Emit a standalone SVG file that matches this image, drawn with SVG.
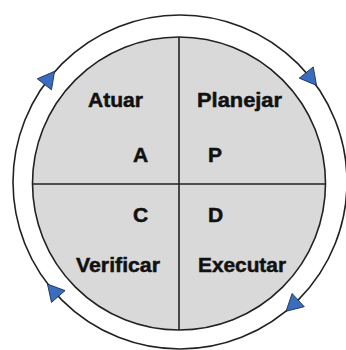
<svg xmlns="http://www.w3.org/2000/svg" width="346" height="350" viewBox="0 0 346 350">
<style>
.lbl{font-family:"Liberation Sans",Arial,sans-serif;font-weight:bold;font-size:21px;fill:#111;stroke:#111;stroke-width:0.5}
.ln{stroke:#222;stroke-width:1.6;fill:none}
.ah{fill:#3a6cc0;stroke:#1a2a4a;stroke-width:0.8}
</style>
<defs>
<polygon id="head" points="10,0 -6.5,-9 -6.5,9"/>
</defs>
<rect width="346" height="350" fill="#ffffff"/>
<g id="connectors">
<circle class="ln" cx="180" cy="182" r="167"/>
<use href="#head" class="ah" transform="translate(48.4,79.2) rotate(308)"/>
<use href="#head" class="ah" transform="translate(310.3,77.6) rotate(51.3)"/>
<use href="#head" class="ah" transform="translate(293.4,304.5) rotate(137.2)"/>
<use href="#head" class="ah" transform="translate(54,291.6) rotate(229)"/>
</g>
<g id="cycle">
<circle cx="179" cy="183.5" r="146.5" fill="#d9d9d9" stroke="#222" stroke-width="1.6"/>
<line class="ln" x1="179" y1="37" x2="179" y2="330"/>
<line class="ln" x1="32.5" y1="184" x2="325.5" y2="184"/>
</g>
<g id="atuar">
<text class="lbl" x="88" y="107" textLength="55" lengthAdjust="spacingAndGlyphs">Atuar</text>
<text class="lbl" x="133" y="162">A</text>
</g>
<g id="planejar">
<text class="lbl" x="197" y="107" textLength="85" lengthAdjust="spacingAndGlyphs">Planejar</text>
<text class="lbl" x="208" y="162">P</text>
</g>
<g id="verificar">
<text class="lbl" x="133" y="222">C</text>
<text class="lbl" x="76" y="272" textLength="84" lengthAdjust="spacingAndGlyphs">Verificar</text>
</g>
<g id="executar">
<text class="lbl" x="208" y="222">D</text>
<text class="lbl" x="198" y="272" textLength="88" lengthAdjust="spacingAndGlyphs">Executar</text>
</g>
</svg>
